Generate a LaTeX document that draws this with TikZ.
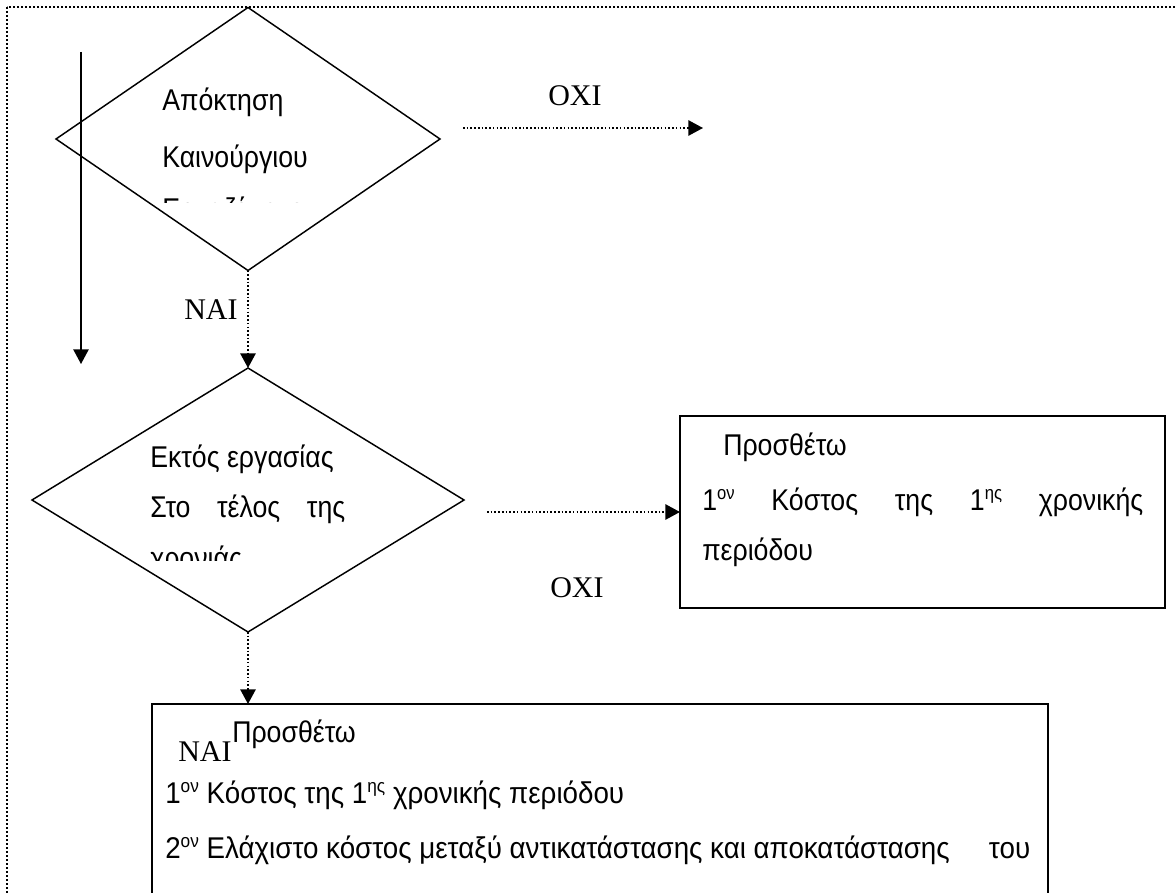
\documentclass[tikz,border=0pt]{standalone}
\usepackage{fontspec}
\setmainfont{Liberation Serif}
\newfontfamily\arfont[FakeStretch=0.89]{Liberation Sans}
\newfontfamily\arwfont[FakeStretch=0.925]{Liberation Sans}
\newfontfamily\tmfont{Liberation Serif}
\usetikzlibrary{shapes.geometric,arrows.meta}
\newcommand\supx[1]{\raisebox{0.36em}{\fontsize{14}{14}\selectfont #1}}
\tikzset{
  dia/.style={shape=diamond, draw, line width=1.1pt, inner sep=0pt, outer sep=0pt},
  boxx/.style={draw, line width=1.4pt, inner sep=0pt, outer sep=0pt},
  txt/.style={font=\arfont\fontsize{22.5}{27}\selectfont, inner sep=0pt, anchor=base west},
  txtw/.style={font=\arwfont\fontsize{22.5}{27}\selectfont, inner sep=0pt, anchor=base west},
  lbl/.style={font=\tmfont\fontsize{22.5}{27}\selectfont, inner sep=0pt, anchor=base west},
  dotconn/.style={line width=1.3pt, dash pattern=on 1.2pt off 1.6pt, -{Triangle[length=11pt,width=11.5pt]}},
  solconn/.style={line width=1.1pt, -{Triangle[length=11pt,width=11.5pt]}},
  frame/.style={line width=1.3pt, dash pattern=on 1.4pt off 1.6pt},
}
\begin{document}
\begin{tikzpicture}[x=0.75pt,y=-0.75pt]
\useasboundingbox (0,0) rectangle (1176,892);
\clip (0,0) rectangle (1176,892);
% outer dotted frame
\draw[frame] (7,7) rectangle (1250,950);
% shapes
\node[dia, minimum width=288pt, minimum height=197.25pt] (d1) at (248,139) {};
\node[dia, minimum width=324pt, minimum height=198pt] (d2) at (248,500) {};
\node[boxx, minimum width=363.75pt, minimum height=144pt] (b2) at (922.5,512) {};
\node[boxx, minimum width=672pt, minimum height=240pt] (b3) at (600,864) {};
% texts in diamond 1
\node[txt] (t11) at (162,110) {Απόκτηση};
\node[txt] (t12) at (162,167) {Καινούργιου};
\begin{scope}
  \clip (100,150) rectangle (400,202);
  \node[txt] (t13) at (162,219) {Εργαζόμενου};
\end{scope}
% texts in diamond 2
\node[txt] (t21) at (150,467) {Εκτός εργασίας};
\node[txt] (t22) at (150,517) {\hbox to 146.25pt{Στο\hfill τέλος\hfill της}};
\begin{scope}
  \clip (100,520) rectangle (400,560);
  \node[txt] (t23) at (150,568) {χρονιάς};
\end{scope}
% texts in box 2
\node[txt] (t31) at (723,455) {Προσθέτω};
\node[txt] (t32) at (702,510) {\hbox to 330.75pt{1\supx{ον}\hfill Κόστος\hfill της\hfill 1\supx{ης}\hfill χρονικής}};
\node[txt] (t33) at (702,560) {περιόδου};
% texts in box 3
\node[lbl] (n3) at (178,761) {NAI};
\node[txt] (t41) at (232,742) {Προσθέτω};
\node[txtw] (t42) at (165,803) {1\supx{ον} Κόστος της 1\supx{ης} χρονικής περιόδου};
\node[txtw] (t43) at (165,858) {\hbox to 648.75pt{2\supx{ον} Ελάχιστο κόστος μεταξύ αντικατάστασης και αποκατάστασης\hfill του}};
% labels
\node[lbl] (o1) at (548,105) {OXI};
\node[lbl] (o2) at (550,597) {OXI};
\node[lbl] (n1) at (184,319) {NAI};
% connectors
\coordinate (o1s) at (463,128);
\coordinate (o1e) at (703,128);
\draw[dotconn] (o1s) -- (o1e);
\draw[dotconn] (d1.south) -- (d2.north);
\coordinate (o2s) at (487,512);
\draw[dotconn] (o2s) -- (b2.west);
\draw[dotconn] (d2.south) -- (d2.south |- b3.north);
\coordinate (vs) at (81,52);
\coordinate (ve) at (81,364);
\draw[solconn] (vs) -- (ve);
\end{tikzpicture}
\end{document}
